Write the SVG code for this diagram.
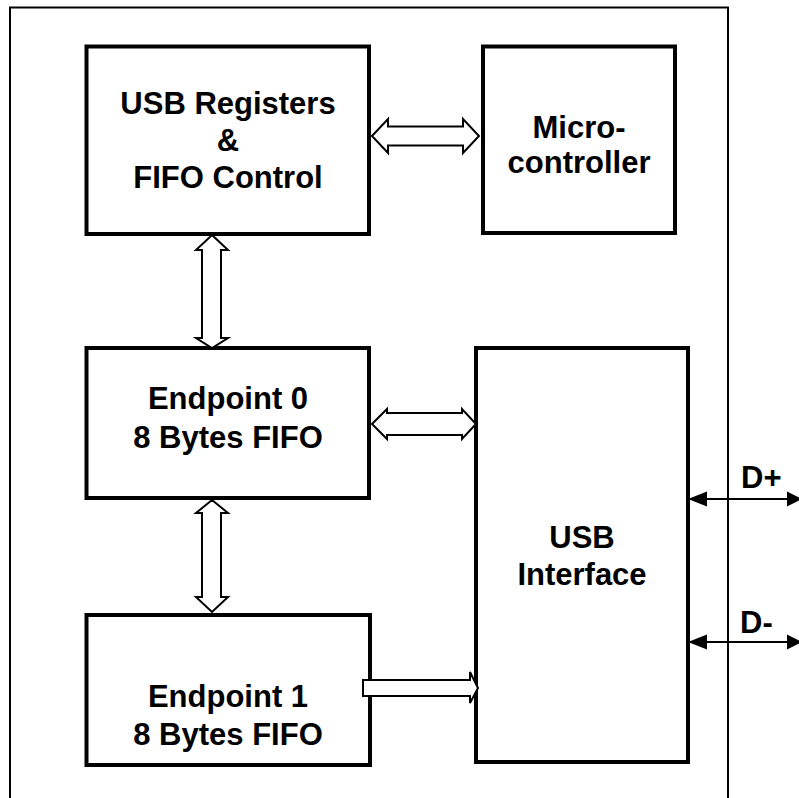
<svg xmlns="http://www.w3.org/2000/svg" width="799" height="798" viewBox="0 0 799 798">
<style>
.box{fill:#fff;stroke:#000;stroke-width:4}
.frame{fill:none;stroke:#000;stroke-width:2}
.arr{fill:#fff;stroke:#000;stroke-width:2;stroke-linejoin:miter}
.sig{stroke:#000;stroke-width:2;fill:none}
.head{fill:#000}
text{font-family:"Liberation Sans",Arial,sans-serif;font-weight:bold;font-size:31px;fill:#000;text-anchor:middle}
.lbl{text-anchor:start}
</style>
<rect width="799" height="798" fill="#fff"/>
<path class="frame" d="M10,798 V7.5 H728 V798"/>
<g id="usb-registers">
<rect class="box" x="86.5" y="46.5" width="282.5" height="187.5"/>
<text x="228" y="114">USB Registers</text>
<text x="228" y="151">&amp;</text>
<text x="228" y="188">FIFO Control</text>
</g>
<g id="microcontroller">
<rect class="box" x="483" y="46.5" width="192" height="186.5"/>
<text x="579" y="138">Micro-</text>
<text x="579" y="173">controller</text>
</g>
<g id="endpoint0">
<rect class="box" x="86.5" y="348" width="282.5" height="150"/>
<text x="228" y="409">Endpoint 0</text>
<text x="228" y="448">8 Bytes FIFO</text>
</g>
<g id="endpoint1">
<rect class="box" x="86.5" y="615" width="283.5" height="150"/>
<text x="228" y="707">Endpoint 1</text>
<text x="228" y="745">8 Bytes FIFO</text>
</g>
<g id="usb-interface">
<rect class="box" x="476" y="348" width="212" height="414"/>
<text x="582" y="548">USB</text>
<text x="582" y="585">Interface</text>
</g>
<g id="connectors">
<polygon class="arr" points="372,136 388,119 388,126.5 463,126.5 463,119 479,136 463,153 463,145.5 388,145.5 388,153"/>
<polygon class="arr" points="212,235 228,250 221,250 221,338 228,338 212,348 196,338 202,338 202,250 196,250"/>
<polygon class="arr" points="372,424 387,409 387,413 462,413 462,409 476,424 462,439 462,435 387,435 387,439"/>
<polygon class="arr" points="212,500 228,513 221,513 221,597 228,597 212,612 196,597 202,597 202,513 196,513"/>
<polygon class="arr" points="363,680 470,680 470,672 478,688 470,703 470,696 363,696"/>
<line class="sig" x1="700" y1="499" x2="790" y2="499"/>
<polygon class="head" points="688,499 707,491.5 707,506.5"/>
<polygon class="head" points="802,499 787,491.5 787,506.5"/>
<line class="sig" x1="700" y1="642" x2="790" y2="642"/>
<polygon class="head" points="688,642 707,634.5 707,649.5"/>
<polygon class="head" points="802,642 787,634.5 787,649.5"/>
</g>
<text class="lbl" x="741" y="488">D+</text>
<text class="lbl" x="740" y="633">D-</text>
</svg>
